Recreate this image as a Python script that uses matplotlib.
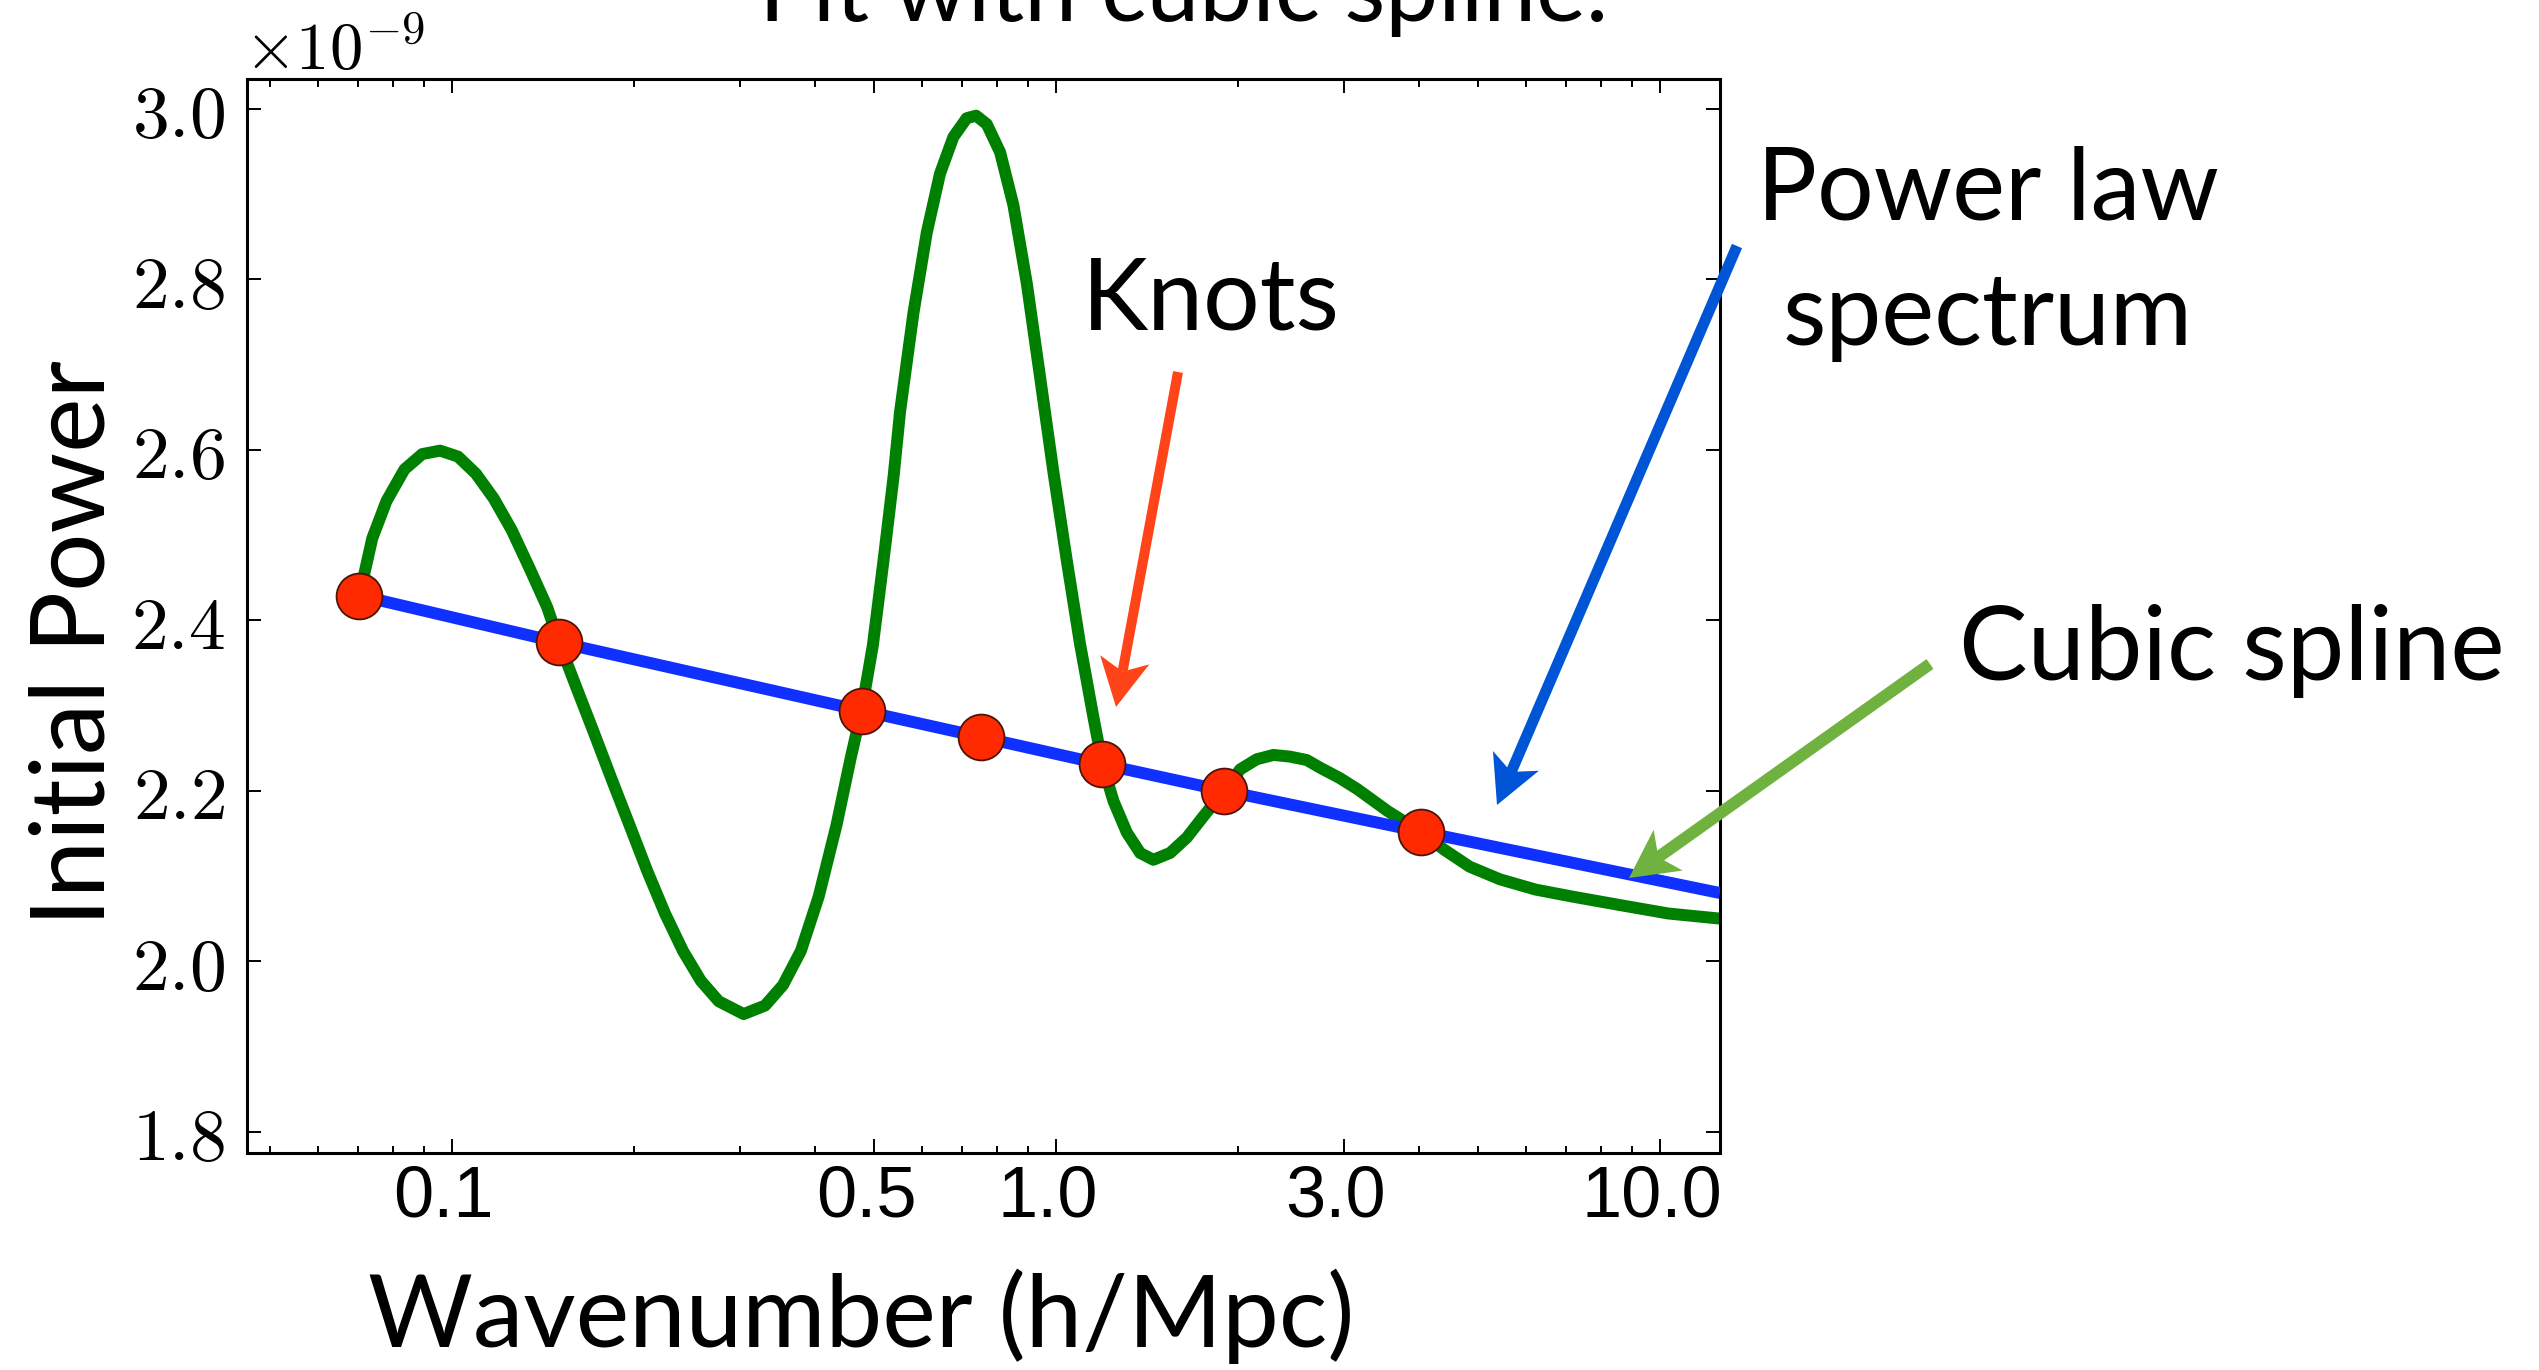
import numpy as np
import matplotlib
matplotlib.use("Agg")
import matplotlib.pyplot as plt
from matplotlib import transforms
from matplotlib.patches import Polygon
from matplotlib.ticker import FixedLocator, LogLocator, NullFormatter, FuncFormatter

W, H, DPI = 2539, 1370, 100
plt.rcParams["mathtext.fontset"] = "cm"
SANS = ["Lato", "DejaVu Sans"]

SCALE = 1e-9  # power values below are in units of 1e-9

# knots sitting on the power-law spectrum (k in h/Mpc)
knot_k = [0.0703, 0.1505, 0.4768, 0.7510, 1.1946, 1.8995, 4.022]
knot_p = [2.429, 2.374, 2.294, 2.263, 2.231, 2.200, 2.152]

# power-law line: through the knots, out to the edge of the k range
line_k = knot_k + [12.58]
line_p = knot_p + [2.080]

# cubic spline curve
spline_k = [0.07031, 0.07383, 0.07796, 0.08347, 0.08933, 0.09563, 0.1024,
            0.1096, 0.1173, 0.1256, 0.1345, 0.1439, 0.1505, 0.1604, 0.1717,
            0.1838, 0.1968, 0.2106, 0.2254, 0.2414, 0.2584, 0.2766, 0.3042,
            0.3301, 0.3534, 0.3783, 0.4050, 0.4335, 0.4577, 0.4768, 0.4977,
            0.5174, 0.5250, 0.5390, 0.5523, 0.5810, 0.6115, 0.6431, 0.6767,
            0.7119, 0.7379, 0.7687, 0.8087, 0.8507, 0.8954, 0.9419, 0.9908,
            1.0428, 1.0969, 1.1543, 1.1946, 1.2457, 1.3108, 1.3792, 1.4505,
            1.5460, 1.6477, 1.7556, 1.8995, 2.019, 2.152, 2.293, 2.443, 2.604,
            2.739, 2.950, 3.155, 3.546, 3.832, 4.022, 4.392, 4.841, 5.441,
            6.232, 7.142, 8.570, 10.32, 12.57]
spline_p = [2.429, 2.496, 2.540, 2.577, 2.595, 2.599, 2.592,
            2.572, 2.543, 2.506, 2.461, 2.415, 2.374, 2.323, 2.269,
            2.214, 2.160, 2.106, 2.056, 2.012, 1.977, 1.953, 1.938,
            1.948, 1.972, 2.012, 2.076, 2.160, 2.239, 2.294, 2.370,
            2.465, 2.502, 2.570, 2.645, 2.760, 2.855, 2.924, 2.967,
            2.989, 2.992, 2.982, 2.949, 2.887, 2.795, 2.685, 2.574,
            2.470, 2.372, 2.286, 2.231, 2.188, 2.151, 2.127, 2.119,
            2.127, 2.145, 2.170, 2.200, 2.225, 2.237, 2.242, 2.240, 2.236,
            2.227, 2.215, 2.202, 2.176, 2.161, 2.152, 2.131, 2.111, 2.096,
            2.084, 2.076, 2.066, 2.056, 2.050]

xtick_vals = [0.1, 0.5, 1.0, 3.0, 10.0]
xtick_labels = ["0.1", "0.5", "1.0", "3.0", "10.0"]
ytick_vals = [1.8, 2.0, 2.2, 2.4, 2.6, 2.8, 3.0]

fig = plt.figure(figsize=(W / DPI, H / DPI), dpi=DPI)
ax = fig.add_axes([247 / W, 1 - 1153 / H, (1720 - 247) / W, (1153 - 79) / H])

ax.plot(spline_k, np.array(spline_p) * SCALE, color="#008000", lw=8.6,
        solid_capstyle="butt", solid_joinstyle="round", zorder=2)
ax.plot(line_k, np.array(line_p) * SCALE, color="#1030ff", lw=8.6,
        solid_capstyle="butt", zorder=3)
ax.plot(knot_k, np.array(knot_p) * SCALE, "o", ms=33, mfc="#ff2a00",
        mec="#4a1408", mew=1.3, zorder=4)

ax.set_xscale("log")
ax.set_xlim(0.0458, 12.58)
ax.set_ylim(1.775 * SCALE, 3.035 * SCALE)

ax.xaxis.set_major_locator(FixedLocator(xtick_vals))
ax.set_xticklabels(xtick_labels)
ax.xaxis.set_minor_locator(LogLocator(base=10, subs=np.arange(2, 10)))
ax.xaxis.set_minor_formatter(NullFormatter())
ax.yaxis.set_major_locator(FixedLocator([v * SCALE for v in ytick_vals]))
ax.yaxis.set_major_formatter(FuncFormatter(lambda v, pos: rf"${v / SCALE:.1f}$"))

for side in ax.spines.values():
    side.set_linewidth(2.2)
ax.tick_params(which="both", direction="in", top=True, right=True, width=1.4)
ax.tick_params(which="major", length=10)
ax.tick_params(which="minor", length=5.4)
ax.tick_params(axis="y", labelsize=53, pad=16)
ax.tick_params(axis="x", labelsize=52, pad=8)
shift = transforms.ScaledTranslation(-8 / DPI, 0, fig.dpi_scale_trans)
for lab in ax.get_xticklabels():
    lab.set_fontfamily(["Liberation Sans", "DejaVu Sans"])
    lab.set_transform(lab.get_transform() + shift)

ax.annotate(r"$\times10^{-9}$", xy=(0, 1), xycoords="axes fraction",
            xytext=(-3, -5), textcoords="offset pixels", ha="left", va="bottom",
            fontsize=48)

# overlay in pixel coordinates for the labels and pointers
ov = fig.add_axes([0, 0, 1, 1], zorder=10)
ov.set_xlim(0, W)
ov.set_ylim(H, 0)
ov.axis("off")
ov.patch.set_visible(False)


def pointer(tail, tip, color, width=10, head_len=48, head_w=25, notch=12):
    tail = np.asarray(tail, float)
    tip = np.asarray(tip, float)
    u = (tip - tail) / np.hypot(*(tip - tail))
    n = np.array([-u[1], u[0]])
    back = tip - (head_len - notch) * u
    ov.plot([tail[0], back[0]], [tail[1], back[1]], color=color,
            lw=width * 0.72, solid_capstyle="butt")
    ov.add_patch(Polygon([tip, tip - head_len * u + head_w * n, back,
                          tip - head_len * u - head_w * n],
                         closed=True, fc=color, ec="none"))


pointer((1178, 372), (1116, 707), "#ff4419", width=10)
pointer((1737, 246), (1497, 805), "#0055d6", width=11)
pointer((1930, 664), (1629, 878), "#70b23f", width=12)

ov.text(1082, 329, "Knots", fontsize=72, family=SANS, ha="left", va="baseline")
ov.text(1988, 219, "Power law", fontsize=72, family=SANS, ha="center", va="baseline")
ov.text(1988, 345, "spectrum", fontsize=72, family=SANS, ha="center", va="baseline")
ov.text(1959, 680, "Cubic spline", fontsize=74, family=SANS, ha="left", va="baseline")
ov.text(1184, 21, "Fit with cubic spline.", fontsize=68, family=SANS,
        ha="center", va="baseline")

ov.text(105, 643, "Initial Power", fontsize=74, family=SANS, rotation=90,
        rotation_mode="anchor", ha="center", va="baseline")
ov.text(861, 1347, "Wavenumber (h/Mpc)", fontsize=73, family=SANS,
        ha="center", va="baseline")

fig.savefig("out.png", dpi=DPI, facecolor="white")
